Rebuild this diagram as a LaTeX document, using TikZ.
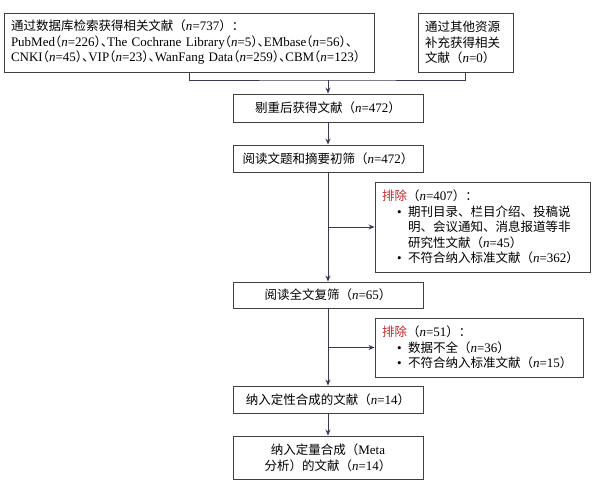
\documentclass[tikz,border=0pt]{standalone}
\usepackage{fontspec}
\setmainfont{Liberation Serif}
\newfontfamily\cjk{Noto Sans CJK SC}
\newfontfamily\cjkhalt[RawFeature=+halt]{Noto Sans CJK SC}
\usetikzlibrary{arrows.meta}

\definecolor{linecol}{HTML}{3A3852}
\definecolor{boxcol}{HTML}{404040}
\definecolor{exred}{HTML}{C0282D}

\newcommand{\zh}[1]{{\fontsize{12.5}{15.5}\selectfont\cjk #1}}
\newcommand{\zhh}[1]{{\fontsize{12.5}{15.5}\selectfont\cjkhalt #1}}
\newcommand{\nval}[1]{\textit{n}=#1}
\newcommand{\bitem}{\hspace*{15pt}\makebox[11pt][l]{\textbullet}}
\newcommand{\bcont}{\hspace*{26pt}}
\newcommand{\boxfont}{\fontsize{13}{15.5}\selectfont\lineskiplimit=-20pt\relax}

\tikzset{
  box/.style={draw=boxcol, line width=0.9pt, inner xsep=7pt, inner ysep=0pt,
    font=\boxfont},
  flow/.style={draw=linecol, line width=0.9pt},
  >={Stealth[length=6pt,width=5pt]}
}

\begin{document}
\begin{tikzpicture}[x=1pt,y=-1pt]
  \useasboundingbox (0,0) rectangle (597,484);

  % Sources
  \node[box, text width=356pt, minimum height=59pt, align=left] (dbsearch) at (189,42.5)
    {\zh{通过数据库检索获得相关文献（}\nval{737}\zh{）：}\\
     PubMed\zhh{（}\nval{226}\zhh{）、}The~Cochrane~Library\zhh{（}\nval{5}\zhh{）、}EMbase\zhh{（}\nval{56}\zhh{）、}\\
     CNKI\zhh{（}\nval{45}\zhh{）、}VIP\zhh{（}\nval{23}\zhh{）、}WanFang~Data\zhh{（}\nval{259}\zhh{）、}CBM\zhh{（}\nval{123}\zhh{）}};
  \node[box, text width=81pt, minimum height=59pt, align=left] (othersrc) at (465.5,42.5)
    {\zh{通过其他资源}\\ \zh{补充获得相关}\\ \zh{文献（}\nval{0}\zh{）}};

  % Screening steps
  \node[box, minimum width=190pt, minimum height=28pt] (dedup) at (328,108)
    {\zh{剔重后获得文献（}\nval{472}\zh{）}};
  \node[box, minimum width=190pt, minimum height=27pt] (titleabs) at (328,158.5)
    {\zh{阅读文题和摘要初筛（}\nval{472}\zh{）}};
  \node[box, minimum width=190pt, minimum height=26pt] (fulltext) at (328,295)
    {\zh{阅读全文复筛（}\nval{65}\zh{）}};
  \node[box, minimum width=190pt, minimum height=27pt] (qualit) at (328,399.5)
    {\zh{纳入定性合成的文献（}\nval{14}\zh{）}};
  \node[box, minimum width=190pt, minimum height=43pt, align=center] (quantit) at (328,457.5)
    {\zh{纳入定量合成（}Meta\\ \zh{分析）的文献（}\nval{14}\zh{）}};

  % Exclusions
  \node[box, text width=201pt, minimum height=90pt, align=left] (excl1) at (482.5,227)
    {\zh{\textcolor{exred}{排除}（}\nval{407}\zh{）：}\\
     \bitem\zh{期刊目录、栏目介绍、投稿说}\\
     \bcont\zh{明、会议通知、消息报道等非}\\
     \bcont\zh{研究性文献（}\nval{45}\zh{）}\\
     \bitem\zh{不符合纳入标准文献（}\nval{362}\zh{）}};
  \node[box, text width=194pt, minimum height=59pt, align=left] (excl2) at (479,347.5)
    {\zh{\textcolor{exred}{排除}（}\nval{51}\zh{）：}\\
     \bitem\zh{数据不全（}\nval{36}\zh{）}\\
     \bitem\zh{不符合纳入标准文献（}\nval{15}\zh{）}};

  % Connectors
  \coordinate (join) at (328,80);
  \coordinate (split1) at (328,227);
  \coordinate (split2) at (328,347.5);
  \draw[flow] (dbsearch.south) |- (join) -| (othersrc.south);
  \draw[flow,->] (join) -- (dedup.north);
  \draw[flow,->] (dedup) -- (titleabs);
  \draw[flow,->] (titleabs) -- (fulltext);
  \draw[flow,->] (split1) -- (excl1.west);
  \draw[flow,->] (fulltext) -- (qualit);
  \draw[flow,->] (split2) -- (excl2.west);
  \draw[flow,->] (qualit) -- (quantit);
\end{tikzpicture}
\end{document}
